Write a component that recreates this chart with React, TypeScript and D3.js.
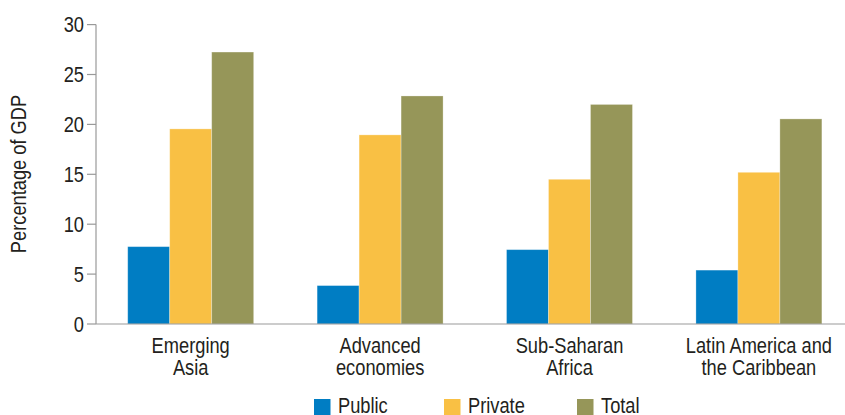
import React from "react";
import * as d3 from "d3";

const categories: string[][] = [
  ["Emerging", "Asia"],
  ["Advanced", "economies"],
  ["Sub-Saharan", "Africa"],
  ["Latin America and", "the Caribbean"],
];
const seriesNames = ["Public", "Private", "Total"];
const publicValues = [7.75, 3.85, 7.45, 5.4];
const privateValues = [19.55, 18.95, 14.5, 15.2];
const totalValues = [27.25, 22.85, 22.0, 20.55];
const yTicks = [0, 5, 10, 15, 20, 25, 30];
const colors = ["#007DC3", "#F9C044", "#969659"];

const FONT = "'Liberation Sans', Arial, sans-serif";
const SX = 0.85;
const FS = 21.5;

function T(props: { x: number; y: number; anchor?: string; rotate?: number; children: React.ReactNode; dy?: string }) {
  const { x, y, anchor = "start", rotate = 0, children, dy } = props;
  return (
    <text
      transform={`translate(${x},${y}) rotate(${rotate}) scale(${SX},1)`}
      textAnchor={anchor}
      fontSize={FS}
      fill="#231f20"
      dy={dy}
    >
      {children}
    </text>
  );
}

export default function App() {
  const W = 845, H = 415;
  const x0 = 96, xEnd = 853.6;
  const yScale = d3.scaleLinear().domain([0, 30]).range([324, 24.6]);
  const keys = categories.map((c) => c.join(" "));
  const x = d3.scaleBand<string>().domain(keys).range([x0, xEnd]).paddingInner(0.335).paddingOuter(0.1675);
  const xs = d3.scaleBand<string>().domain(seriesNames).range([0, x.bandwidth()]);
  const series = [publicValues, privateValues, totalValues];

  return (
    <svg width={W} height={H} style={{ position: "absolute", left: 0, top: 0, background: "#fff" }} fontFamily={FONT}>
      {keys.map((k, i) => (
        <g key={k} transform={`translate(${x(k)},0)`}>
          {series.map((vals, s) => (
            <rect
              key={s}
              x={xs(seriesNames[s])}
              y={yScale(vals[i])}
              width={xs.bandwidth()}
              height={yScale(0) - yScale(vals[i])}
              fill={colors[s]}
              stroke="rgba(255,255,255,0.35)"
              strokeWidth={0.8}
            />
          ))}
        </g>
      ))}
      <line x1={x0} x2={x0} y1={yScale(30)} y2={yScale(0)} stroke="#999" strokeWidth={1.2} />
      <line x1={x0} x2={W} y1={yScale(0)} y2={yScale(0)} stroke="#999" strokeWidth={1.2} />
      {yTicks.map((t) => (
        <g key={t}>
          <line x1={87} x2={x0} y1={yScale(t)} y2={yScale(t)} stroke="#999" strokeWidth={1.2} />
          <T x={84} y={yScale(t)} anchor="end" dy="0.36em">
            {t}
          </T>
        </g>
      ))}
      <T x={26} y={174} anchor="middle" rotate={-90}>
        Percentage of GDP
      </T>
      {categories.map((c, i) =>
        c.map((line, j) => (
          <T key={`${i}-${j}`} x={(x(keys[i]) as number) + x.bandwidth() / 2} y={353 + j * 22} anchor="middle">
            {line}
          </T>
        ))
      )}
      {seriesNames.map((n, s) => {
        const lx = [314, 444, 577][s];
        return (
          <g key={n}>
            <rect x={lx} y={399} width={16.5} height={16.5} fill={colors[s]} />
            <T x={lx + 24} y={413}>
              {n}
            </T>
          </g>
        );
      })}
    </svg>
  );
}
